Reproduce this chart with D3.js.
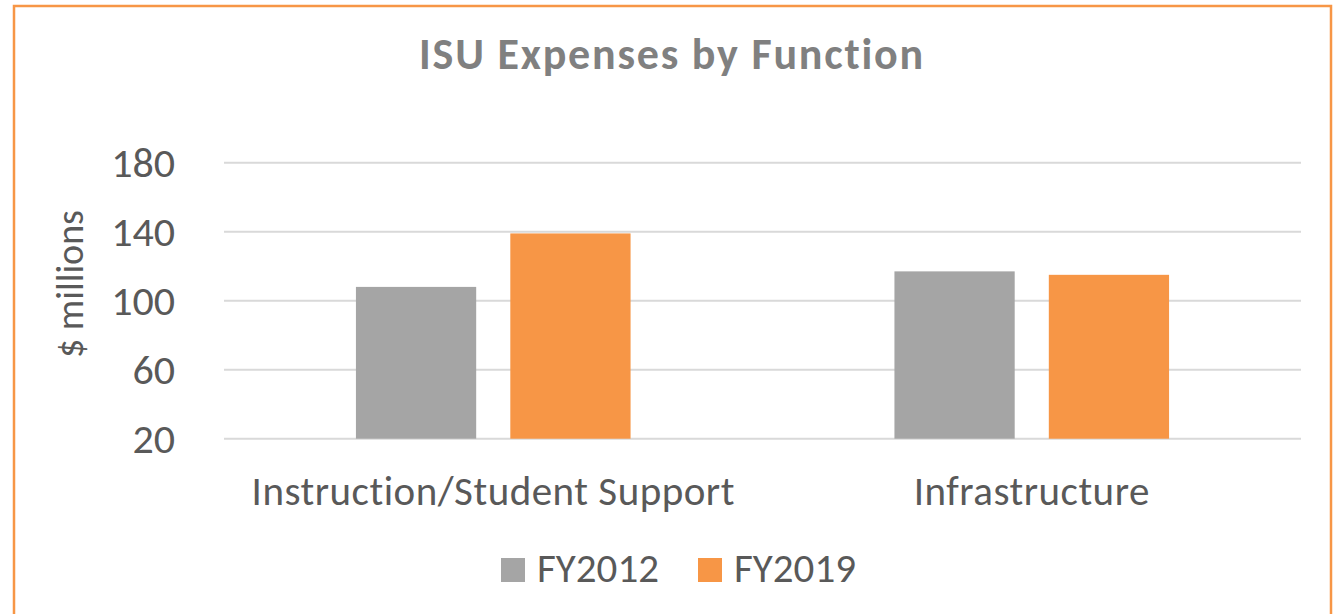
<!DOCTYPE html>
<html>
<head>
<meta charset="utf-8">
<script src="https://cdn.jsdelivr.net/npm/d3@7"></script>
<style>
  body { margin: 0; background: #fff; }
  text { font-family: Calibri, Carlito, Lato, sans-serif; }
</style>
</head>
<body>
<script>
// chart values
const categories = ['Instruction/Student Support', 'Infrastructure']
const seriesNames = ['FY2012', 'FY2019']
const fy2012 = [108, 117]
const fy2019 = [139, 115]
const yTicks = [20, 60, 100, 140, 180]
const colors = ['#a5a5a5', '#f79646']

const WIDTH = 1342
const HEIGHT = 614
const TEXT = '#595959'

const svg = d3.select('body')
  .append('svg')
  .attr('width', WIDTH)
  .attr('height', HEIGHT)

svg.append('rect')
  .attr('width', WIDTH)
  .attr('height', HEIGHT)
  .attr('fill', '#fff')

// orange frame, bottom edge runs off the picture
svg.append('rect')
  .attr('x', 14)
  .attr('y', 6)
  .attr('width', 1317)
  .attr('height', 640)
  .attr('fill', 'none')
  .attr('stroke', '#f79646')
  .attr('stroke-width', 2.5)

svg.append('text')
  .attr('x', 672)
  .attr('y', 69)
  .attr('text-anchor', 'middle')
  .attr('font-size', 44)
  .attr('font-weight', 'bold')
  .attr('letter-spacing', 1.8)
  .attr('fill', '#808080')
  .text('ISU Expenses by Function')

const plot = { left: 224, right: 1301, top: 162.7, bottom: 438.7 }

const y = d3.scaleLinear()
  .domain([20, 180])
  .range([plot.bottom, plot.top])

const x0 = d3.scaleBand()
  .domain(categories)
  .range([plot.left, plot.right])

// bars sit in the middle of each category band
const outer = x0.bandwidth() * 0.245
const x1 = d3.scaleBand()
  .domain(seriesNames)
  .range([outer, x0.bandwidth() - outer])
  .paddingInner(0.221)

// gridlines
svg.append('g')
  .selectAll('line')
  .data(yTicks)
  .join('line')
  .attr('x1', plot.left)
  .attr('x2', plot.right)
  .attr('y1', d => y(d))
  .attr('y2', d => y(d))
  .attr('stroke', '#d9d9d9')
  .attr('stroke-width', 2)

// y axis labels
const yAxis = svg.append('g')
  .attr('transform', `translate(${plot.left - 30},0)`)
  .call(d3.axisLeft(y).tickValues(yTicks).tickSize(0).tickPadding(19))
yAxis.select('.domain').remove()
yAxis.selectAll('text')
  .attr('font-size', 42)
  .attr('fill', TEXT)
  .attr('font-family', 'Calibri, Carlito, Lato, sans-serif')

svg.append('text')
  .attr('transform', 'translate(83,284) rotate(-90)')
  .attr('text-anchor', 'middle')
  .attr('font-size', 38)
  .attr('fill', TEXT)
  .text('$ millions')

// bars
const rows = categories.map((c, i) => ({ cat: c, values: [fy2012[i], fy2019[i]] }))

const groups = svg.append('g')
  .selectAll('g')
  .data(rows)
  .join('g')
  .attr('transform', d => `translate(${x0(d.cat)},0)`)

groups.selectAll('rect')
  .data(d => d.values.map((v, j) => ({ name: seriesNames[j], value: v, color: colors[j] })))
  .join('rect')
  .attr('x', d => x1(d.name))
  .attr('width', x1.bandwidth())
  .attr('y', d => y(d.value))
  .attr('height', d => y(20) - y(d.value))
  .attr('fill', d => d.color)

// category labels
svg.append('g')
  .selectAll('text')
  .data(categories)
  .join('text')
  .attr('x', d => x0(d) + x0.bandwidth() / 2)
  .attr('y', 505)
  .attr('text-anchor', 'middle')
  .attr('font-size', 41)
  .attr('letter-spacing', 0.5)
  .attr('fill', TEXT)
  .text(d => d)

// legend
const legendX = [501, 698]
const legend = svg.append('g')
  .selectAll('g')
  .data(seriesNames)
  .join('g')
  .attr('transform', (d, i) => `translate(${legendX[i]},558)`)

legend.append('rect')
  .attr('width', 24)
  .attr('height', 24)
  .attr('fill', (d, i) => colors[i])

legend.append('text')
  .attr('x', 36)
  .attr('y', 24)
  .attr('font-size', 41)
  .attr('fill', TEXT)
  .text(d => d)
</script>
</body>
</html>
